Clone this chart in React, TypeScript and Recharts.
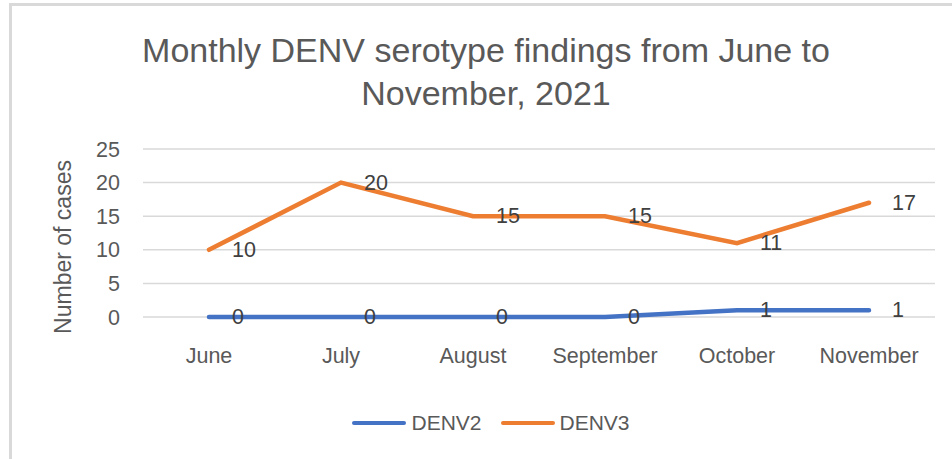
import React from "react";
import { CartesianGrid, LabelList, Legend, Line, LineChart, XAxis, YAxis } from "recharts";

const months = ["June", "July", "August", "September", "October", "November"];
const denv2 = [0, 0, 0, 0, 1, 1];
const denv3 = [10, 20, 15, 15, 11, 17];
const yTicks = [0, 5, 10, 15, 20, 25];

const SERIES = [
  { key: "DENV2", color: "#4472C4" },
  { key: "DENV3", color: "#ED7D31" },
];

const data = months.map((month, i) => ({ month, DENV2: denv2[i], DENV3: denv3[i] }));

const FONT = '"Liberation Sans", Arial, sans-serif';

function ValueLabel(props: any) {
  const { x, y, value } = props;
  return (
    <text x={x + 23} y={y} dominantBaseline="central" fill="#404040" fontSize={21.5} fontFamily={FONT}>
      {value}
    </text>
  );
}

function LegendContent() {
  return (
    <div style={{ height: 40, display: "flex", justifyContent: "center", alignItems: "center", gap: 19, fontFamily: FONT, fontSize: 21, color: "#595959", paddingLeft: 35 }}>
      {SERIES.map((s) => (
        <div key={s.key} style={{ display: "flex", alignItems: "center", gap: 5 }}>
          <span style={{ width: 54, height: 4, borderRadius: 2, background: s.color, display: "inline-block" }} />
          <span>{s.key}</span>
        </div>
      ))}
    </div>
  );
}

export default function App() {
  return (
    <div style={{ position: "absolute", left: 0, top: 0, width: 952, height: 459, background: "#fff", overflow: "hidden" }}>
      <div style={{ position: "absolute", left: 9, top: 3, width: 943, height: 456, borderTop: "3px solid #D9D9D9", borderLeft: "3px solid #D9D9D9" }} />
      <div style={{ position: "absolute", left: 86, top: 29, width: 800, textAlign: "center", fontFamily: FONT, fontSize: 34, lineHeight: "43px", color: "#595959" }}>
        Monthly DENV serotype findings from June to
        <br />
        November, 2021
      </div>
      <div style={{ position: "absolute", left: 12, top: 6 }}>
        <LineChart width={940} height={453} data={data} margin={{ top: 143, right: 17, bottom: 16, left: 0 }}>
          <CartesianGrid vertical={false} stroke="#D9D9D9" strokeWidth={1.5} />
          <XAxis
            dataKey="month"
            padding={{ left: 66, right: 66 }}
            axisLine={false}
            tickLine={false}
            tickMargin={25}
            height={86}
            tick={{ fill: "#595959", fontSize: 21.5, fontFamily: FONT }}
          />
          <YAxis
            width={131}
            domain={[0, 25]}
            ticks={yTicks}
            axisLine={false}
            tickLine={false}
            tickMargin={17}
            tick={{ fill: "#595959", fontSize: 21.5, fontFamily: FONT }}
            label={{ value: "Number of cases", angle: -90, position: "center", dx: -15, dy: 14, fill: "#595959", fontSize: 23, fontFamily: FONT }}
          />
          <Legend verticalAlign="bottom" content={<LegendContent />} />
          {SERIES.map((s) => (
            <Line
              key={s.key}
              type="linear"
              dataKey={s.key}
              stroke={s.color}
              strokeWidth={4.5}
              strokeLinecap="round"
              dot={false}
              activeDot={false}
              isAnimationActive={false}
            >
              <LabelList dataKey={s.key} content={<ValueLabel />} />
            </Line>
          ))}
        </LineChart>
      </div>
    </div>
  );
}
